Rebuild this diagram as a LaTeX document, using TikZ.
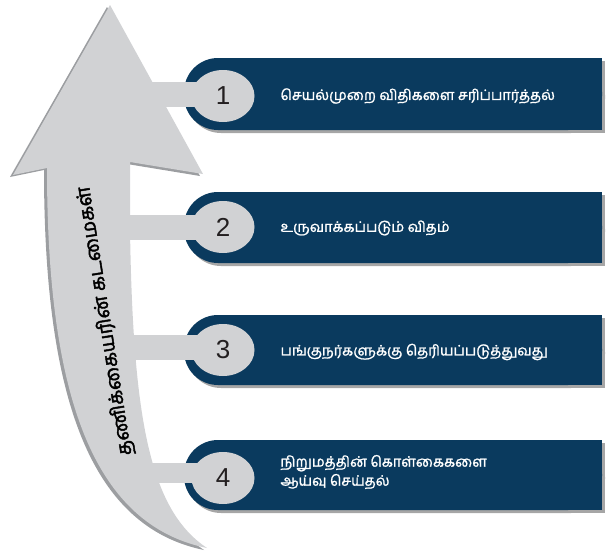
\documentclass[tikz,border=0pt]{standalone}
\usetikzlibrary{shapes.geometric}
\usepackage{fontspec}
\setmainfont{Liberation Sans}
\newfontfamily\tamil[Script=Tamil, FakeBold=1.3]{Hind Madurai}
\newfontfamily\tamiltitle[Script=Tamil, FakeBold=2.2]{Hind Madurai}
\definecolor{boxblue}{HTML}{0A3A5E}
\definecolor{arrgray}{HTML}{D1D2D4}
\definecolor{arrshadow}{HTML}{9C9EA1}
\definecolor{numcol}{HTML}{231F20}
\begin{document}
\begin{tikzpicture}[x=1pt,y=-1pt,
  bluebox/.style={fill=boxblue, rounded corners=34pt},
  boxshadow/.style={fill=black!35, rounded corners=34pt},
  numcircle/.style={ellipse, fill=arrgray, minimum width=63pt, minimum height=52pt, inner sep=0pt,
    font=\fontsize{26}{26}\selectfont, text=numcol},
  barstyle/.style={fill=arrgray},
  steptext/.style={anchor=west, text=white, font=\tamil\fontsize{14.4}{19}\selectfont, align=left},
  sidelabel/.style={font=\tamiltitle\fontsize{19.5}{19.5}\selectfont, text=black}
]
\useasboundingbox (0,0) rectangle (606,552);
% arrow shadow
\fill[arrshadow, xshift=-3pt, yshift=-2pt] (110,5) -- (203,174) -- (130,162) -- (130,230)
  .. controls (133,420) and (150,510) .. (207,548)
  .. controls (95,525) and (47,400) .. (47,168) -- (13,175) -- cycle;
% arrow
\fill[arrgray] (110,5) -- (203,174) -- (130,162) -- (130,230)
  .. controls (133,420) and (150,510) .. (207,548)
  .. controls (95,525) and (47,400) .. (47,168) -- (13,175) -- cycle;
\node[sidelabel, rotate=99] (title) at (105,321) {தணிக்கையரின் கடமைகள்};

% boxes
\foreach \t/\b in {58/130, 192/263, 315/385, 440/510}{
  \fill[boxshadow] (605,\t+3) -- (187,\t+3) -- (187,\b+3) -- (605,\b+3) -- cycle;
  \fill[black!35] (560,\t+3) rectangle (605,\b+3);
  \fill[bluebox] (602,\t) -- (184,\t) -- (184,\b) -- (602,\b) -- cycle;
  \fill[boxblue] (560,\t) rectangle (602,\b);
}

% bars
\fill[barstyle] (126,82) rectangle (223,107);
\fill[barstyle] (128,215) rectangle (223,240);
\fill[barstyle] (132,335) rectangle (223,360);
\fill[barstyle] (145,463) rectangle (223,483);

\node[numcircle] (c1) at (223,96) {1};
\node[numcircle] (c2) at (223,227) {2};
\node[numcircle] (c3) at (223,350) {3};
\node[numcircle] (c4) at (223,478) {4};

\node[steptext] (t1) at (277,96) {செயல்முறை விதிகளை சரிப்பார்த்தல்};
\node[steptext] (t2) at (277,228) {உருவாக்கப்படும் விதம்};
\node[steptext] (t3) at (277,352) {பங்குநர்களுக்கு தெரியப்படுத்துவது};
\node[steptext] (t4) at (277,472) {நிறுமத்தின் கொள்கைகளை\\ஆய்வு செய்தல்};
\end{tikzpicture}
\end{document}
